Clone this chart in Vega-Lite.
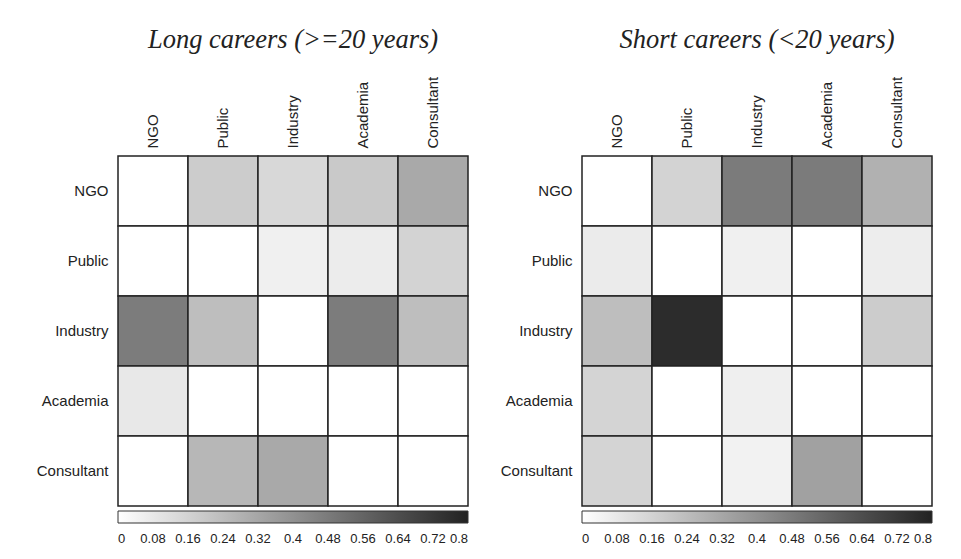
{
  "$schema": "https://vega.github.io/schema/vega-lite/v6.json",
  "padding": {"left": 36, "top": 26, "right": 10, "bottom": 5},
  "background": "#ffffff",
  "config": {
    "view": {"stroke": null},
    "font": "Liberation Sans",
    "axis": {"labelFont": "Liberation Sans", "labelColor": "#222222", "labelFontSize": 15, "ticks": false, "domain": false, "title": null, "labelPadding": 10},
    "legend": {"labelFont": "Liberation Sans", "labelColor": "#222222", "labelFontSize": 13}
  },
  "data": {"values": [
    {"panel": "L", "from": "NGO", "to": "NGO", "v": 0},
    {"panel": "L", "from": "NGO", "to": "Public", "v": 0.183},
    {"panel": "L", "from": "NGO", "to": "Industry", "v": 0.14},
    {"panel": "L", "from": "NGO", "to": "Academia", "v": 0.197},
    {"panel": "L", "from": "NGO", "to": "Consultant", "v": 0.31},
    {"panel": "L", "from": "Public", "to": "NGO", "v": 0},
    {"panel": "L", "from": "Public", "to": "Public", "v": 0},
    {"panel": "L", "from": "Public", "to": "Industry", "v": 0.054},
    {"panel": "L", "from": "Public", "to": "Academia", "v": 0.068},
    {"panel": "L", "from": "Public", "to": "Consultant", "v": 0.161},
    {"panel": "L", "from": "Industry", "to": "NGO", "v": 0.474},
    {"panel": "L", "from": "Industry", "to": "Public", "v": 0.237},
    {"panel": "L", "from": "Industry", "to": "Industry", "v": 0},
    {"panel": "L", "from": "Industry", "to": "Academia", "v": 0.474},
    {"panel": "L", "from": "Industry", "to": "Consultant", "v": 0.237},
    {"panel": "L", "from": "Academia", "to": "NGO", "v": 0.083},
    {"panel": "L", "from": "Academia", "to": "Public", "v": 0},
    {"panel": "L", "from": "Academia", "to": "Industry", "v": 0},
    {"panel": "L", "from": "Academia", "to": "Academia", "v": 0},
    {"panel": "L", "from": "Academia", "to": "Consultant", "v": 0},
    {"panel": "L", "from": "Consultant", "to": "NGO", "v": 0},
    {"panel": "L", "from": "Consultant", "to": "Public", "v": 0.262},
    {"panel": "L", "from": "Consultant", "to": "Industry", "v": 0.312},
    {"panel": "L", "from": "Consultant", "to": "Academia", "v": 0},
    {"panel": "L", "from": "Consultant", "to": "Consultant", "v": 0},
    {"panel": "R", "from": "NGO", "to": "NGO", "v": 0},
    {"panel": "R", "from": "NGO", "to": "Public", "v": 0.161},
    {"panel": "R", "from": "NGO", "to": "Industry", "v": 0.478},
    {"panel": "R", "from": "NGO", "to": "Academia", "v": 0.478},
    {"panel": "R", "from": "NGO", "to": "Consultant", "v": 0.283},
    {"panel": "R", "from": "Public", "to": "NGO", "v": 0.072},
    {"panel": "R", "from": "Public", "to": "Public", "v": 0},
    {"panel": "R", "from": "Public", "to": "Industry", "v": 0.054},
    {"panel": "R", "from": "Public", "to": "Academia", "v": 0},
    {"panel": "R", "from": "Public", "to": "Consultant", "v": 0.065},
    {"panel": "R", "from": "Industry", "to": "NGO", "v": 0.237},
    {"panel": "R", "from": "Industry", "to": "Public", "v": 0.764},
    {"panel": "R", "from": "Industry", "to": "Industry", "v": 0},
    {"panel": "R", "from": "Industry", "to": "Academia", "v": 0},
    {"panel": "R", "from": "Industry", "to": "Consultant", "v": 0.183},
    {"panel": "R", "from": "Academia", "to": "NGO", "v": 0.154},
    {"panel": "R", "from": "Academia", "to": "Public", "v": 0},
    {"panel": "R", "from": "Academia", "to": "Industry", "v": 0.057},
    {"panel": "R", "from": "Academia", "to": "Academia", "v": 0},
    {"panel": "R", "from": "Academia", "to": "Consultant", "v": 0},
    {"panel": "R", "from": "Consultant", "to": "NGO", "v": 0.154},
    {"panel": "R", "from": "Consultant", "to": "Public", "v": 0},
    {"panel": "R", "from": "Consultant", "to": "Industry", "v": 0.047},
    {"panel": "R", "from": "Consultant", "to": "Academia", "v": 0.341},
    {"panel": "R", "from": "Consultant", "to": "Consultant", "v": 0}
  ]},
  "spacing": 31,
  "resolve": {"scale": {"color": "independent"}, "legend": {"color": "independent"}},
  "hconcat": [
    {
      "width": 350, "height": 350,
      "title": {"text": "Long careers (>=20 years)", "font": "Liberation Serif", "fontStyle": "italic", "fontWeight": "normal", "fontSize": 26.5, "color": "#222222", "offset": 23, "anchor": "middle"},
      "transform": [{"filter": "datum.panel === 'L'"}],
      "mark": {"type": "rect", "stroke": "#222222", "strokeWidth": 1.5},
      "encoding": {
        "x": {"field": "to", "type": "nominal", "sort": ["NGO", "Public", "Industry", "Academia", "Consultant"], "axis": {"orient": "top", "labelAngle": -90, "labelPadding": 8}, "scale": {"paddingInner": 0, "paddingOuter": 0}},
        "y": {"field": "from", "type": "nominal", "sort": ["NGO", "Public", "Industry", "Academia", "Consultant"], "scale": {"paddingInner": 0, "paddingOuter": 0}},
        "color": {"field": "v", "type": "quantitative", "scale": {"domain": [0, 0.8], "range": ["#ffffff", "#222222"], "interpolate": "rgb"},
          "legend": {"title": null, "orient": "none", "legendX": 0, "legendY": 355, "direction": "horizontal", "gradientLength": 350, "gradientThickness": 12, "gradientStrokeColor": "#333333", "gradientStrokeWidth": 1, "values": [0, 0.08, 0.16, 0.24, 0.32, 0.4, 0.48, 0.56, 0.64, 0.72, 0.8], "labelExpr": "'' + datum.value", "labelAlign": "center", "labelOverlap": false, "labelOffset": 10}}
      }
    },
    {
      "width": 350, "height": 350,
      "title": {"text": "Short careers (<20 years)", "font": "Liberation Serif", "fontStyle": "italic", "fontWeight": "normal", "fontSize": 26.5, "color": "#222222", "offset": 23, "anchor": "middle"},
      "transform": [{"filter": "datum.panel === 'R'"}],
      "mark": {"type": "rect", "stroke": "#222222", "strokeWidth": 1.5},
      "encoding": {
        "x": {"field": "to", "type": "nominal", "sort": ["NGO", "Public", "Industry", "Academia", "Consultant"], "axis": {"orient": "top", "labelAngle": -90, "labelPadding": 8}, "scale": {"paddingInner": 0, "paddingOuter": 0}},
        "y": {"field": "from", "type": "nominal", "sort": ["NGO", "Public", "Industry", "Academia", "Consultant"], "scale": {"paddingInner": 0, "paddingOuter": 0}},
        "color": {"field": "v", "type": "quantitative", "scale": {"domain": [0, 0.8], "range": ["#ffffff", "#222222"], "interpolate": "rgb"},
          "legend": {"title": null, "orient": "none", "legendX": 0, "legendY": 355, "direction": "horizontal", "gradientLength": 350, "gradientThickness": 12, "gradientStrokeColor": "#333333", "gradientStrokeWidth": 1, "values": [0, 0.08, 0.16, 0.24, 0.32, 0.4, 0.48, 0.56, 0.64, 0.72, 0.8], "labelExpr": "'' + datum.value", "labelAlign": "center", "labelOverlap": false, "labelOffset": 10}}
      }
    }
  ]
}
